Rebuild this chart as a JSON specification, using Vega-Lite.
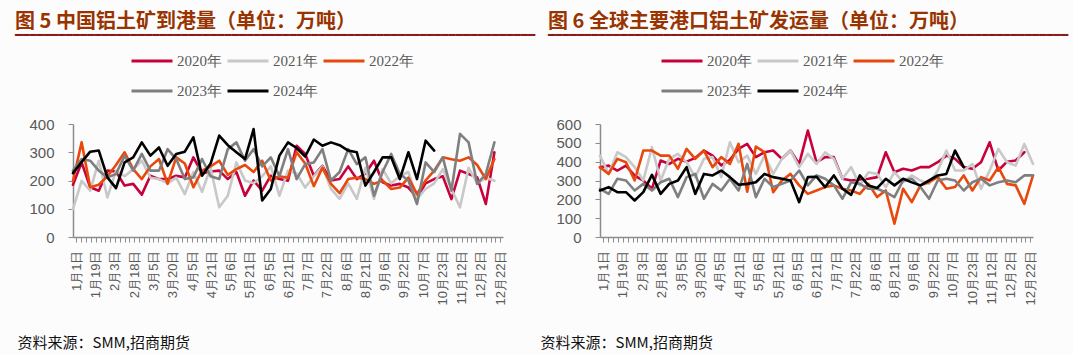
{
"$schema": "https://vega.github.io/schema/vega-lite/v6.json",
"background": "#FCFCFC",
"padding": {"left": 15, "top": 12, "right": 4, "bottom": 4},
"config": {
  "view": {"stroke": null},
  "font": "Liberation Sans",
  "concat": {"spacing": 4},
  "axisX": {
    "labelExpr": "round((datum.value-0.4)/0.56) % 4 == 0 ? ['1月1日','1月19日','2月3日','2月18日','3月5日','3月20日','4月5日','4月21日','5月6日','5月21日','6月5日','6月21日','7月7日','7月22日','8月6日','8月21日','9月6日','9月22日','10月7日','10月23日','11月12日','12月2日','12月22日'][round((datum.value-0.4)/0.56)/4] : ''",
    "labelAngle": -90,
    "labelFont": "Liberation Sans",
    "labelFontSize": 13,
    "labelColor": "#595959",
    "labelOverlap": false,
    "labelFlush": false,
    "labelPadding": 8,
    "tickSize": 5,
    "tickColor": "#8C8C8C",
    "domainColor": "#8C8C8C",
    "domainWidth": 1.5,
    "grid": false,
    "titleX": -56,
    "titleY": 105,
    "titleAlign": "left",
    "titleAnchor": "start",
    "titleBaseline": "middle",
    "titleFont": "Noto Sans CJK SC",
    "titleFontSize": 15,
    "titleFontWeight": "normal",
    "titleColor": "#111111"
  },
  "axisY": {
    "labelFont": "Liberation Sans",
    "labelFontSize": 15,
    "labelColor": "#595959",
    "labelPadding": 14,
    "tickSize": 5,
    "tickColor": "#8C8C8C",
    "domainColor": "#8C8C8C",
    "domainWidth": 1.5,
    "grid": false,
    "title": null
  },
  "legend": {
    "direction": "horizontal",
    "columns": 3,
    "symbolType": "stroke",
    "symbolSize": 1681,
    "symbolStrokeWidth": 3,
    "labelFont": "Liberation Serif",
    "labelFontSize": 15,
    "labelColor": "#595959",
    "labelOffset": 3,
    "columnPadding": -1,
    "rowPadding": -11,
    "padding": 0
  },
  "title": {
    "font": "Noto Sans CJK SC",
    "fontSize": 20,
    "fontWeight": "bold",
    "color": "#993300",
    "anchor": "start",
    "frame": "group",
    "offset": -2,
    "subtitleFont": "DejaVu Sans",
    "subtitleFontSize": 12,
    "subtitleColor": "#8B1A1A",
    "subtitlePadding": -2
  }
},
"datasets": {
  "left": [
    {"w":0,"2020年":185,"2021年":99,"2022年":199,"2023年":235,"2024年":226},
    {"w":1,"2020年":264,"2021年":199,"2022年":335,"2023年":276,"2024年":265},
    {"w":2,"2020年":176,"2021年":164,"2022年":176,"2023年":270,"2024年":302},
    {"w":3,"2020年":164,"2021年":270,"2022年":185,"2023年":235,"2024年":306},
    {"w":4,"2020年":235,"2021年":140,"2022年":215,"2023年":211,"2024年":211},
    {"w":5,"2020年":232,"2021年":235,"2022年":255,"2023年":223,"2024年":173},
    {"w":6,"2020年":182,"2021年":215,"2022年":300,"2023年":288,"2024年":264},
    {"w":7,"2020年":188,"2021年":240,"2022年":240,"2023年":235,"2024年":282},
    {"w":8,"2020年":150,"2021年":270,"2022年":205,"2023年":294,"2024年":335},
    {"w":9,"2020年":217,"2021年":210,"2022年":250,"2023年":235,"2024年":288},
    {"w":10,"2020年":205,"2021年":205,"2022年":276,"2023年":235,"2024年":317},
    {"w":11,"2020年":205,"2021年":190,"2022年":188,"2023年":311,"2024年":252},
    {"w":12,"2020年":217,"2021年":210,"2022年":282,"2023年":276,"2024年":294},
    {"w":13,"2020年":211,"2021年":152,"2022年":260,"2023年":205,"2024年":302},
    {"w":14,"2020年":282,"2021年":230,"2022年":176,"2023年":211,"2024年":353},
    {"w":15,"2020年":225,"2021年":160,"2022年":235,"2023年":276,"2024年":217},
    {"w":16,"2020年":232,"2021年":245,"2022年":250,"2023年":215,"2024年":260},
    {"w":17,"2020年":235,"2021年":105,"2022年":270,"2023年":205,"2024年":359},
    {"w":18,"2020年":205,"2021年":146,"2022年":220,"2023年":311,"2024年":325},
    {"w":19,"2020年":230,"2021年":264,"2022年":240,"2023年":335,"2024年":300},
    {"w":20,"2020年":146,"2021年":200,"2022年":255,"2023年":270,"2024年":276},
    {"w":21,"2020年":200,"2021年":190,"2022年":230,"2023年":311,"2024年":382},
    {"w":22,"2020年":164,"2021年":215,"2022年":270,"2023年":250,"2024年":129},
    {"w":23,"2020年":217,"2021年":250,"2022年":200,"2023年":282,"2024年":170},
    {"w":24,"2020年":205,"2021年":146,"2022年":215,"2023年":215,"2024年":288},
    {"w":25,"2020年":199,"2021年":235,"2022年":210,"2023年":311,"2024年":335},
    {"w":26,"2020年":323,"2021年":225,"2022年":300,"2023年":205,"2024年":315},
    {"w":27,"2020年":294,"2021年":175,"2022年":260,"2023年":258,"2024年":285},
    {"w":28,"2020年":217,"2021年":215,"2022年":180,"2023年":264,"2024年":345},
    {"w":29,"2020年":252,"2021年":250,"2022年":245,"2023年":311,"2024年":323},
    {"w":30,"2020年":200,"2021年":170,"2022年":188,"2023年":200,"2024年":335},
    {"w":31,"2020年":205,"2021年":135,"2022年":155,"2023年":230,"2024年":325},
    {"w":32,"2020年":250,"2021年":190,"2022年":205,"2023年":311,"2024年":306},
    {"w":33,"2020年":205,"2021年":135,"2022年":210,"2023年":258,"2024年":300},
    {"w":34,"2020年":225,"2021年":245,"2022年":205,"2023年":282,"2024年":182},
    {"w":35,"2020年":270,"2021年":135,"2022年":188,"2023年":146,"2024年":230},
    {"w":36,"2020年":194,"2021年":240,"2022年":200,"2023年":230,"2024年":282},
    {"w":37,"2020年":182,"2021年":190,"2022年":170,"2023年":294,"2024年":282},
    {"w":38,"2020年":188,"2021年":215,"2022年":175,"2023年":223,"2024年":205},
    {"w":39,"2020年":175,"2021年":230,"2022年":210,"2023年":200,"2024年":300},
    {"w":40,"2020年":140,"2021年":135,"2022年":152,"2023年":117,"2024年":205},
    {"w":41,"2020年":190,"2021年":170,"2022年":200,"2023年":264,"2024年":341},
    {"w":42,"2020年":205,"2021年":190,"2022年":235,"2023年":230,"2024年":306},
    {"w":43,"2020年":215,"2021年":240,"2022年":282,"2023年":282},
    {"w":44,"2020年":134,"2021年":170,"2022年":275,"2023年":164},
    {"w":45,"2020年":235,"2021年":105,"2022年":270,"2023年":365},
    {"w":46,"2020年":223,"2021年":245,"2022年":282,"2023年":335},
    {"w":47,"2020年":211,"2021年":190,"2022年":255,"2023年":188},
    {"w":48,"2020年":117,"2021年":210,"2022年":205,"2023年":223},
    {"w":49,"2020年":300,"2021年":199,"2022年":276,"2023年":335}
  ],
  "right": [
    {"w":0,"2020年":370,"2021年":432,"2022年":371,"2023年":256,"2024年":247},
    {"w":1,"2020年":379,"2021年":335,"2022年":335,"2023年":229,"2024年":265},
    {"w":2,"2020年":353,"2021年":450,"2022年":415,"2023年":309,"2024年":238},
    {"w":3,"2020年":379,"2021年":424,"2022年":397,"2023年":300,"2024年":238},
    {"w":4,"2020年":326,"2021年":371,"2022年":300,"2023年":247,"2024年":194},
    {"w":5,"2020年":300,"2021年":300,"2022年":459,"2023年":282,"2024年":238},
    {"w":6,"2020年":256,"2021年":477,"2022年":459,"2023年":247,"2024年":330},
    {"w":7,"2020年":406,"2021年":300,"2022年":432,"2023年":291,"2024年":229},
    {"w":8,"2020年":388,"2021年":415,"2022年":432,"2023年":309,"2024年":282},
    {"w":9,"2020年":415,"2021年":441,"2022年":362,"2023年":212,"2024年":300},
    {"w":10,"2020年":400,"2021年":397,"2022年":468,"2023年":318,"2024年":371},
    {"w":11,"2020年":420,"2021年":318,"2022年":415,"2023年":335,"2024年":229},
    {"w":12,"2020年":459,"2021年":415,"2022年":459,"2023年":203,"2024年":335},
    {"w":13,"2020年":432,"2021年":424,"2022年":371,"2023年":282,"2024年":327},
    {"w":14,"2020年":380,"2021年":318,"2022年":424,"2023年":247,"2024年":353},
    {"w":15,"2020年":410,"2021年":503,"2022年":388,"2023年":309,"2024年":318},
    {"w":16,"2020年":468,"2021年":397,"2022年":495,"2023年":247,"2024年":277},
    {"w":17,"2020年":494,"2021年":432,"2022年":240,"2023年":388,"2024年":282},
    {"w":18,"2020年":424,"2021年":335,"2022年":480,"2023年":212,"2024年":291},
    {"w":19,"2020年":450,"2021年":432,"2022年":450,"2023年":309,"2024年":335},
    {"w":20,"2020年":459,"2021年":335,"2022年":238,"2023年":265,"2024年":318},
    {"w":21,"2020年":415,"2021年":415,"2022年":300,"2023年":282,"2024年":309},
    {"w":22,"2020年":459,"2021年":459,"2022年":335,"2023年":300,"2024年":300},
    {"w":23,"2020年":388,"2021年":371,"2022年":274,"2023年":353,"2024年":185},
    {"w":24,"2020年":565,"2021年":441,"2022年":229,"2023年":274,"2024年":318},
    {"w":25,"2020年":397,"2021年":388,"2022年":247,"2023年":327,"2024年":320},
    {"w":26,"2020年":424,"2021年":450,"2022年":265,"2023年":309,"2024年":265},
    {"w":27,"2020年":424,"2021年":415,"2022年":274,"2023年":274,"2024年":327},
    {"w":28,"2020年":309,"2021年":309,"2022年":256,"2023年":203,"2024年":256},
    {"w":29,"2020年":300,"2021年":371,"2022年":247,"2023年":291,"2024年":224},
    {"w":30,"2020年":305,"2021年":274,"2022年":229,"2023年":282,"2024年":327},
    {"w":31,"2020年":309,"2021年":344,"2022年":282,"2023年":256,"2024年":274},
    {"w":32,"2020年":318,"2021年":335,"2022年":212,"2023年":256,"2024年":260},
    {"w":33,"2020年":450,"2021年":265,"2022年":247,"2023年":238,"2024年":309},
    {"w":34,"2020年":344,"2021年":344,"2022年":71,"2023年":212,"2024年":274},
    {"w":35,"2020年":362,"2021年":291,"2022年":256,"2023年":300,"2024年":309},
    {"w":36,"2020年":353,"2021年":327,"2022年":185,"2023年":309,"2024年":290},
    {"w":37,"2020年":371,"2021年":300,"2022年":274,"2023年":265,"2024年":274},
    {"w":38,"2020年":371,"2021年":282,"2022年":291,"2023年":203,"2024年":300},
    {"w":39,"2020年":397,"2021年":353,"2022年":318,"2023年":300,"2024年":327},
    {"w":40,"2020年":432,"2021年":459,"2022年":256,"2023年":309,"2024年":335},
    {"w":41,"2020年":415,"2021年":353,"2022年":265,"2023年":300,"2024年":459},
    {"w":42,"2020年":371,"2021年":353,"2022年":327,"2023年":247,"2024年":371},
    {"w":43,"2020年":362,"2021年":388,"2022年":247,"2023年":291},
    {"w":44,"2020年":397,"2021年":256,"2022年":318,"2023年":309},
    {"w":45,"2020年":503,"2021年":353,"2022年":300,"2023年":274},
    {"w":46,"2020年":353,"2021年":468,"2022年":371,"2023年":291},
    {"w":47,"2020年":400,"2021年":397,"2022年":282,"2023年":300},
    {"w":48,"2020年":406,"2021年":379,"2022年":274,"2023年":291},
    {"w":49,"2020年":450,"2021年":494,"2022年":176,"2023年":327},
    {"w":50,"2021年":388,"2022年":327,"2023年":327}
  ]
},
"hconcat": [
  {
    "width": 430,
    "height": 113,
    "title": {"text": "图 5 中国铝土矿到港量（单位：万吨）", "dx": -58, "subtitle": "━━━━━━━━━━━━━━━━━━━━━━━━━━━━━━━━━━━━━━━━━━━━━━━━━━━━━━━━━━━━━━━━━━━━━━━━"},
    "data": {"name": "left"},
    "transform": [{"fold": ["2020年","2021年","2022年","2023年","2024年"], "as": ["年份","值"]}],
    "mark": {"type": "line", "strokeWidth": 2.6, "strokeJoin": "round", "strokeCap": "round"},
    "encoding": {
      "x": {"field": "w", "type": "quantitative", "scale": {"domain": [0, 50], "nice": false, "zero": false},
        "axis": {"title": "资料来源：SMM,招商期货",
          "values": [0.4,0.96,1.52,2.08,2.64,3.2,3.76,4.32,4.88,5.44,6.0,6.56,7.12,7.68,8.24,8.8,9.36,9.92,10.48,11.04,11.6,12.16,12.72,13.28,13.84,14.4,14.96,15.52,16.08,16.64,17.2,17.76,18.32,18.88,19.44,20.0,20.56,21.12,21.68,22.24,22.8,23.36,23.92,24.48,25.04,25.6,26.16,26.72,27.28,27.84,28.4,28.96,29.52,30.08,30.64,31.2,31.76,32.32,32.88,33.44,34.0,34.56,35.12,35.68,36.24,36.8,37.36,37.92,38.48,39.04,39.6,40.16,40.72,41.28,41.84,42.4,42.96,43.52,44.08,44.64,45.2,45.76,46.32,46.88,47.44,48.0,48.56,49.12,49.68]}},
      "y": {"field": "值", "type": "quantitative", "scale": {"domain": [0, 400], "nice": false}, "axis": {"values": [0, 100, 200, 300, 400]}},
      "color": {"field": "年份", "type": "nominal",
        "scale": {"domain": ["2020年","2021年","2022年","2023年","2024年"], "range": ["#C8003C","#C8C8C8","#E8480C","#7F7F7F","#000000"]},
        "legend": {"title": null, "orient": "none", "legendX": 57, "legendY": -85}}
    }
  },
  {
    "width": 433,
    "height": 113,
    "title": {"text": "图 6 全球主要港口铝土矿发运量（单位：万吨）", "dx": -52, "subtitle": "━━━━━━━━━━━━━━━━━━━━━━━━━━━━━━━━━━━━━━━━━━━━━━━━━━━━━━━━━━━━━━━━━━━━━━━━"},
    "data": {"name": "right"},
    "transform": [{"fold": ["2020年","2021年","2022年","2023年","2024年"], "as": ["年份","值"]}],
    "mark": {"type": "line", "strokeWidth": 2.6, "strokeJoin": "round", "strokeCap": "round"},
    "encoding": {
      "x": {"field": "w", "type": "quantitative", "scale": {"domain": [0, 50], "nice": false, "zero": false},
        "axis": {"title": "资料来源：SMM,招商期货", "titleX": -60,
          "values": [0.4,0.96,1.52,2.08,2.64,3.2,3.76,4.32,4.88,5.44,6.0,6.56,7.12,7.68,8.24,8.8,9.36,9.92,10.48,11.04,11.6,12.16,12.72,13.28,13.84,14.4,14.96,15.52,16.08,16.64,17.2,17.76,18.32,18.88,19.44,20.0,20.56,21.12,21.68,22.24,22.8,23.36,23.92,24.48,25.04,25.6,26.16,26.72,27.28,27.84,28.4,28.96,29.52,30.08,30.64,31.2,31.76,32.32,32.88,33.44,34.0,34.56,35.12,35.68,36.24,36.8,37.36,37.92,38.48,39.04,39.6,40.16,40.72,41.28,41.84,42.4,42.96,43.52,44.08,44.64,45.2,45.76,46.32,46.88,47.44,48.0,48.56,49.12,49.68]}},
      "y": {"field": "值", "type": "quantitative", "scale": {"domain": [0, 600], "nice": false}, "axis": {"values": [0, 100, 200, 300, 400, 500, 600]}},
      "color": {"field": "年份", "type": "nominal",
        "scale": {"domain": ["2020年","2021年","2022年","2023年","2024年"], "range": ["#C8003C","#C8C8C8","#E8480C","#7F7F7F","#000000"]},
        "legend": {"title": null, "orient": "none", "legendX": 60, "legendY": -85}}
    }
  }
],
"resolve": {"scale": {"y": "independent", "color": "independent"}}
}
